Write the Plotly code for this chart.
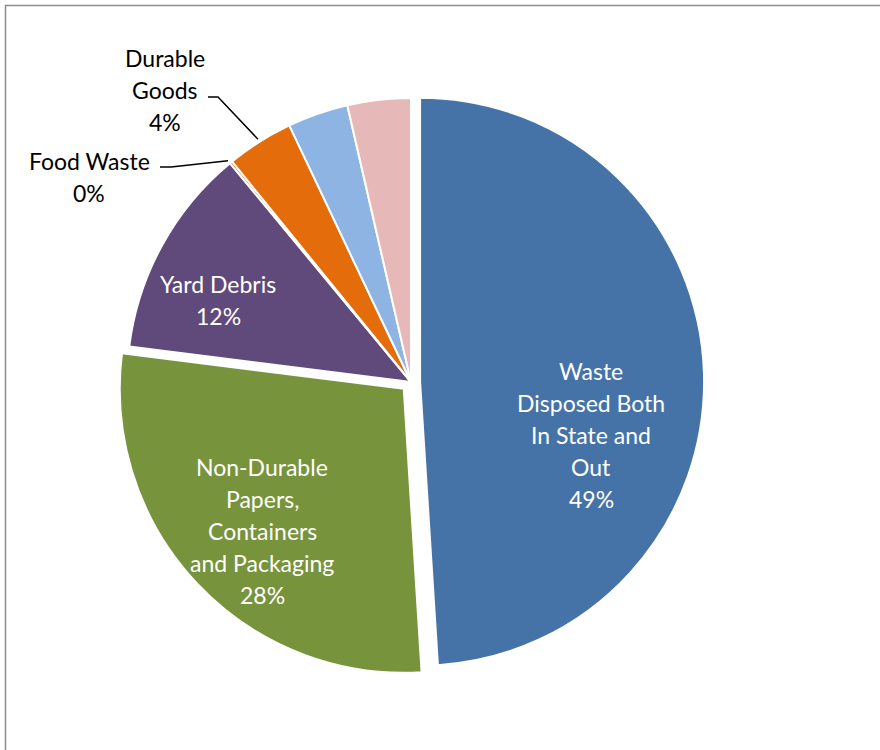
import math
import plotly.graph_objects as go

# ---- data ----
categories = [
    "Waste Disposed Both In State and Out",
    "Non-Durable Papers, Containers and Packaging",
    "Yard Debris",
    "Food Waste",
    "Durable Goods",
    "Other (a)",
    "Other (b)",
]
label_lines = [
    ["Waste", "Disposed Both", "In State and", "Out"],
    ["Non-Durable", "Papers,", "Containers", "and Packaging"],
    ["Yard Debris"],
    ["Food Waste"],
    ["Durable", "Goods"],
    [],
    [],
]
values = [49.0, 28.0, 12.0, 0.15, 3.8, 3.45, 3.6]

# ---- style ----
colors = ["#4573A7", "#77933C", "#604A7B", "#E46C0A", "#E46C0A", "#8EB4E3", "#E6B9B8"]
pulls = [0.032, 0.035, 0, 0, 0, 0, 0]
# label block centres (px) and colours; None = no label
label_pos = [(591, 435), (262, 531), (218, 300), (89, 177), (165, 90), None, None]
label_color = ["white", "white", "white", "black", "black", None, None]
# leader lines for outside labels: index -> (start, elbow, angle mode)
leaders = {4: ((208, 97), (218, 97), "mid"), 3: ((160, 167), (171, 167), "start")}

W, H = 880, 750
CX, CY, R = 411, 382, 284
FONT = "Lato"
FSIZE = 23

half = R * (1 + max(pulls))
domain_x = [(CX - half) / W, (CX + half) / W]
domain_y = [(H - CY - half) / H, (H - CY + half) / H]


def px(x, y):
    return x / W, 1 - y / H


total = sum(values)
starts = []
acc = 0.0
for v in values:
    starts.append(acc / total * 360)
    acc += v


def rim(theta, extra=0):
    t = math.radians(theta)
    return CX + (R + extra) * math.sin(t), CY - (R + extra) * math.cos(t)


fig = go.Figure(
    go.Pie(
        labels=categories,
        values=values,
        sort=False,
        direction="clockwise",
        rotation=0,
        pull=pulls,
        marker=dict(colors=colors, line=dict(color="white", width=2)),
        textinfo="none",
        domain=dict(x=domain_x, y=domain_y),
        showlegend=False,
        hoverinfo="label+percent",
    )
)

annotations = []
shapes = []
LINE_GAP = 32

for i, pos in enumerate(label_pos):
    if pos is None:
        continue
    pct = round(values[i] / total * 100)
    lines = label_lines[i] + [f"{pct}%"]
    n = len(lines)
    for k, line in enumerate(lines):
        yk = pos[1] + (k - (n - 1) / 2) * LINE_GAP
        x, y = px(pos[0], yk)
        annotations.append(dict(x=x, y=y, xref="paper", yref="paper", showarrow=False,
                                xanchor="center", yanchor="middle", text=line,
                                font=dict(family=FONT, size=FSIZE, color=label_color[i])))

for i, (p0, p1, mode) in leaders.items():
    theta = starts[i] + (values[i] / total * 180 if mode == "mid" else 0)
    ex, ey = rim(theta, extra=3)
    x0, y0 = px(*p0)
    x1, y1 = px(*p1)
    x2, y2 = px(ex, ey)
    shapes.append(dict(type="path", xref="paper", yref="paper",
                       path=f"M {x0} {y0} L {x1} {y1} L {x2} {y2}",
                       line=dict(color="black", width=1.5)))

# chart-area frame (left and top edges visible)
fx0, fy0 = px(5.5, 5.5)
shapes.append(dict(type="rect", xref="paper", yref="paper",
                   x0=fx0, y0=-0.2, x1=1.2, y1=fy0,
                   line=dict(color="#8C8C8C", width=1.5), layer="below"))

fig.update_layout(
    width=W, height=H,
    margin=dict(l=0, r=0, t=0, b=0),
    paper_bgcolor="white",
    plot_bgcolor="white",
    annotations=annotations,
    shapes=shapes,
    font=dict(family=FONT),
)

fig.write_html("out.html", config={"displayModeBar": False},
               post_script="document.body.style.margin='0';")
